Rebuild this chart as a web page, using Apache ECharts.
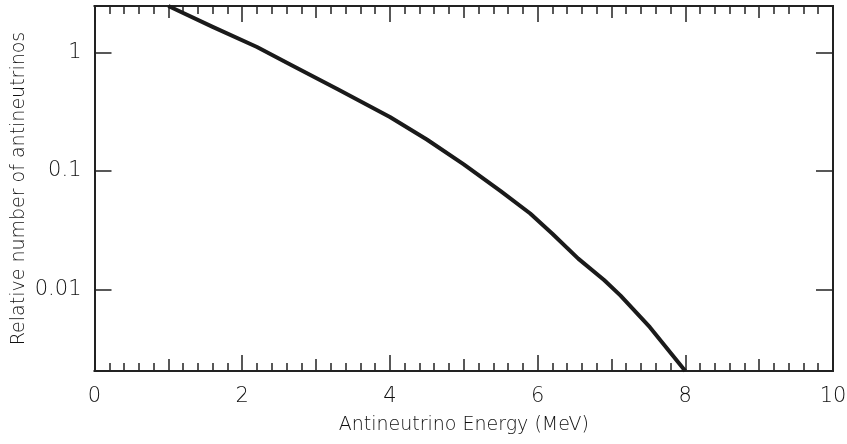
<!DOCTYPE html>
<html><head><meta charset="utf-8">
<script src="https://cdn.jsdelivr.net/npm/echarts@6/dist/echarts.min.js"></script>
<style>html,body{margin:0;padding:0;background:#fff}#c{width:847px;height:444px}</style>
</head><body><div id="c"></div>
<script>
// Data
const energy = [1.0, 1.6, 2.2, 2.65, 3.3, 4.0, 4.5, 5.0, 5.5, 5.9, 6.2, 6.55, 6.9, 7.12, 7.52, 8.0];
const relNumber = [2.46, 1.64, 1.11, 0.79, 0.485, 0.285, 0.184, 0.1135, 0.0676, 0.0437, 0.0295, 0.0182, 0.012, 0.0089, 0.0048, 0.00205];
const xTicks = [0, 2, 4, 6, 8, 10];
const yTickLabels = ['0.01', '0.1', '1'];
const xTitle = 'Antineutrino Energy (MeV)';
const yTitle = 'Relative number of antineutrinos';

const FONT = 'DejaVu Sans';
const INK = '#222';
const TXT = '#111';
const yMin = 0.00205, yMax = 2.46;

function isDecade(v){const l=Math.log10(v);return Math.abs(l-Math.round(l))<1e-6;}

function xAx(pos, interval, len, opts){
  return Object.assign({
    type:'value', position:pos, min:0, max:10, interval:interval,
    axisLine:{show:true, onZero:false, lineStyle:{color:INK,width:2}},
    axisTick:{show:true, inside:true, length:len, lineStyle:{color:INK,width:1.5}},
    axisLabel:{show:false}, splitLine:{show:false}
  }, opts||{});
}
function yAx(pos, opts){
  return Object.assign({
    type:'log', logBase:10, position:pos, min:yMin, max:yMax,
    axisLine:{show:true, onZero:false, lineStyle:{color:INK,width:2}},
    axisTick:{show:true, inside:true, length:17, lineStyle:{color:INK,width:1.5}},
    axisLabel:{show:false}, splitLine:{show:false}, minorTick:{show:false}
  }, opts||{});
}

const chart = echarts.init(document.getElementById('c'), null, {renderer:'canvas'});
chart.setOption({
  animation:false,
  backgroundColor:'#fff',
  grid:{left:94.5, right:14, top:6, bottom:73, containLabel:false, outerBoundsMode:'none'},
  xAxis:[
    xAx('bottom', 2, 16, {
      axisLabel:{show:true, color:TXT, fontFamily:FONT, fontWeight:200, fontSize:21, margin:15,
        formatter:v=> xTicks.indexOf(v)>=0 ? String(v) : ''},
      minorTick:{show:true, splitNumber:10, length:8, lineStyle:{color:INK,width:1.5}},
      name:xTitle, nameLocation:'middle', nameGap:45,
      nameTextStyle:{color:TXT, fontFamily:FONT, fontWeight:200, fontSize:19}
    }),
    xAx('bottom', 1, 12),
    xAx('top', 2, 16, {minorTick:{show:true, splitNumber:10, length:8, lineStyle:{color:INK,width:1.5}}}),
    xAx('top', 1, 12)
  ],
  yAxis:[
    yAx('left', {
      axisLabel:{show:true, color:TXT, fontFamily:FONT, fontWeight:200, fontSize:21, margin:13,
        formatter:v=>{ if(!isDecade(v)) return '';
          const l=Math.round(Math.log10(v)); const t=yTickLabels[l+2]; return t===undefined?'':t; }},
      name:yTitle, nameLocation:'middle', nameGap:66, nameRotate:90, nameMoveOverlap:false,
      nameTextStyle:{color:TXT, fontFamily:FONT, fontWeight:200, fontSize:19}
    }),
    yAx('right')
  ],
  series:[{
    type:'line', xAxisIndex:0, yAxisIndex:0, smooth:false, showSymbol:false,
    lineStyle:{color:'#1a1a1a', width:4, join:'round'},
    data: energy.map((e,i)=>[e, relNumber[i]]),
    clip:true
  }]
});
</script></body></html>
